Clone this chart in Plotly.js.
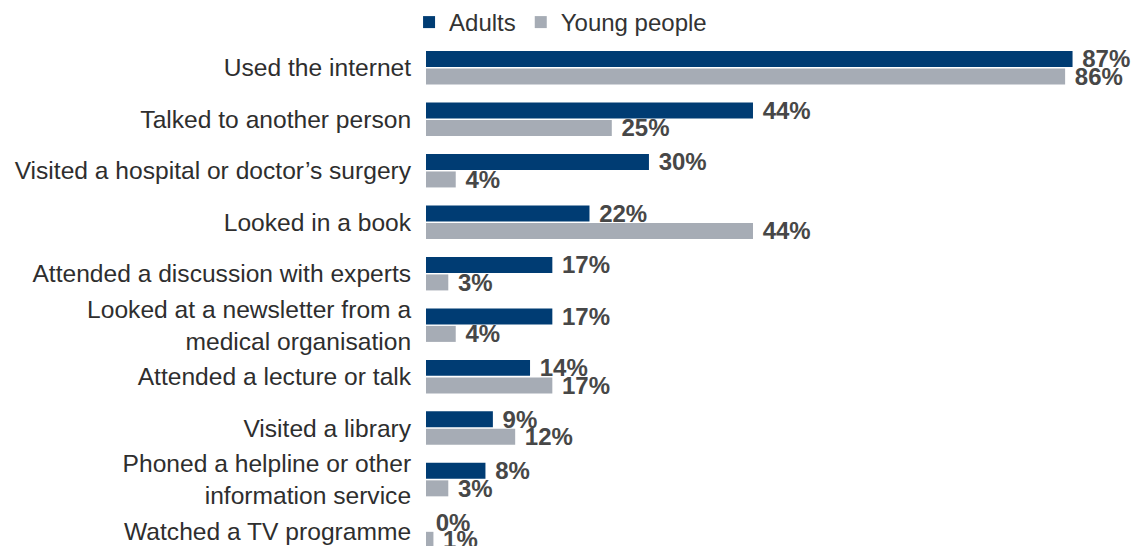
<!DOCTYPE html>
<html>
<head>
<meta charset="utf-8">
<script src="https://cdn.plot.ly/plotly-3.0.1.min.js"></script>
<style>html,body{margin:0;padding:0;background:#fff;}#chart{width:1137px;height:546px;}</style>
</head>
<body>
<div id="chart"></div>
<script>
const categories = [
  "Used the internet",
  "Talked to another person",
  "Visited a hospital or doctor’s surgery",
  "Looked in a book",
  "Attended a discussion with experts",
  "Looked at a newsletter from a<br>medical organisation",
  "Attended a lecture or talk",
  "Visited a library",
  "Phoned a helpline or other<br>information service",
  "Watched a TV programme"
];
const adults = [87, 44, 30, 22, 17, 17, 14, 9, 8, 0];
const youngPeople = [86, 25, 4, 44, 3, 4, 17, 12, 3, 1];
const seriesNames = ["Adults", "Young people"];

const FONT = '"Liberation Sans", Arial, sans-serif';
const labelFont = {family: FONT, size: 24, color: '#474747', weight: 'bold'};

function barTrace(name, values, color) {
  return {
    type: 'bar',
    orientation: 'h',
    name: name,
    y: categories,
    x: values,
    marker: {color: color},
    texttemplate: '\u00a0%{x}%',
    textposition: 'outside',
    constraintext: 'none',
    cliponaxis: false,
    textfont: labelFont,
    outsidetextfont: labelFont,
    hoverinfo: 'skip'
  };
}

const data = [
  barTrace(seriesNames[0], adults, '#003c73'),
  barTrace(seriesNames[1], youngPeople, '#a6acb5')
];

const layout = {
  width: 1137,
  height: 546,
  margin: {l: 426, r: 5, t: 42, b: 0, pad: 0, autoexpand: false},
  paper_bgcolor: '#ffffff',
  plot_bgcolor: '#ffffff',
  barmode: 'group',
  bargap: 0.32,
  bargroupgap: 0.086,
  showlegend: true,
  legend: {
    orientation: 'h',
    x: -0.024, xanchor: 'left', xref: 'paper',
    y: 0.9588, yanchor: 'middle', yref: 'container',
    font: {family: FONT, size: 24, color: '#333333'},
    traceorder: 'normal',
    bgcolor: 'rgba(0,0,0,0)'
  },
  xaxis: {
    range: [0, 95],
    showgrid: false,
    zeroline: false,
    showline: false,
    showticklabels: false,
    ticks: '',
    fixedrange: true
  },
  yaxis: {
    type: 'category',
    range: [9.29, -0.5],
    showgrid: false,
    zeroline: false,
    showline: false,
    ticks: 'outside',
    ticklen: 9,
    tickcolor: 'rgba(0,0,0,0)',
    tickfont: {family: FONT, size: 24.6, color: '#2e2e2e'},
    automargin: false,
    fixedrange: true
  },
  font: {family: FONT}
};

Plotly.newPlot('chart', data, layout, {displayModeBar: false, staticPlot: true});
</script>
</body>
</html>
